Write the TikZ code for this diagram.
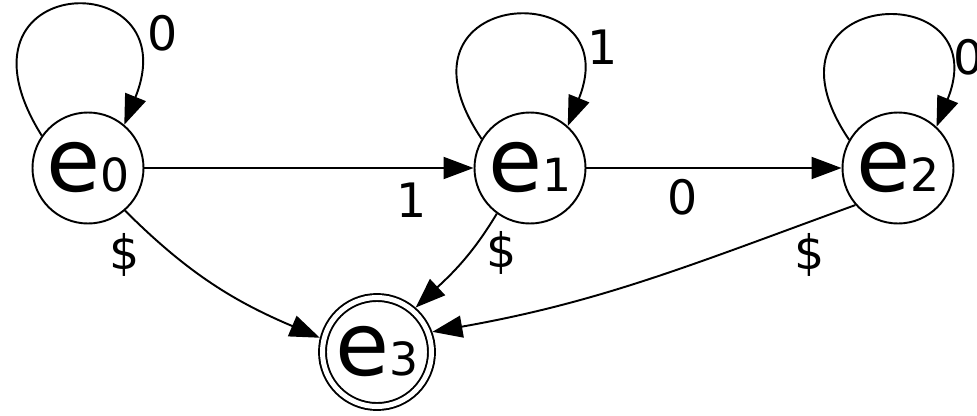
\documentclass[tikz,border=0pt]{standalone}
\usepackage{fontspec}
\setmainfont{DejaVu Sans}
\usetikzlibrary{arrows.meta}

% nom d'un etat : grand e, petit indice
\newcommand{\etatnom}[1]{{\fontsize{50}{50}\selectfont e}{\fontsize{26}{26}\selectfont #1}}

\begin{document}
\begin{tikzpicture}[
    etat/.style={circle, draw, line width=1.1pt, minimum size=2.22cm, inner sep=0pt},
    final/.style={etat, double, double distance=0.1cm, minimum size=2.18cm, outer sep=0.05cm+1.1pt},
    fleche/.style={-{Triangle[length=0.6cm,width=0.44cm]}, line width=1.1pt},
    lab/.style={font=\fontsize{27}{27}\selectfont, inner sep=0pt}
  ]
  \useasboundingbox (0,0) rectangle (19.54,8.3);

  % Etats
  \node[etat] (e0) at (1.76,4.94) {\etatnom{0}};
  \node[etat] (e1) at (10.60,4.94) {\etatnom{1}};
  \node[etat] (e2) at (17.96,4.94) {\etatnom{2}};
  \node[final] (e3) at (7.54,1.26) {\etatnom{3}};

  % Boucles
  \draw[fleche] (e0.145) .. controls +(122:3.9) and +(68:3.5) .. (e0.50);
  \draw[fleche] (e1.149) .. controls +(124:3.7) and +(68:3.3) .. (e1.48);
  \draw[fleche] (e2.150) .. controls +(124:3.7) and +(68:3.3) .. (e2.47);
  \node[lab] (l00) at (3.26,7.64) {0};
  \node[lab] (l11) at (12.06,7.36) {1};
  \node[lab] (l22) at (19.38,7.16) {0};

  % Transitions
  \draw[fleche] (e0) -- (e1);
  \draw[fleche] (e1) -- (e2);
  \node[lab] (l01) at (8.24,4.30) {1};
  \node[lab] (l12) at (13.66,4.36) {0};

  % Vers l'etat final
  \draw[fleche] (e0.-49) to[out=-45, in=157] (e3.166);
  \draw[fleche] (e1.234) to[out=239, in=43] (e3.49);
  \draw[fleche] (e2.221) to[out=200, in=10] (e3.20);
  \node[lab] (l03) at (2.50,3.20) {\$};
  \node[lab] (l13) at (10.04,3.24) {\$};
  \node[lab] (l23) at (16.20,3.20) {\$};

\end{tikzpicture}
\end{document}
